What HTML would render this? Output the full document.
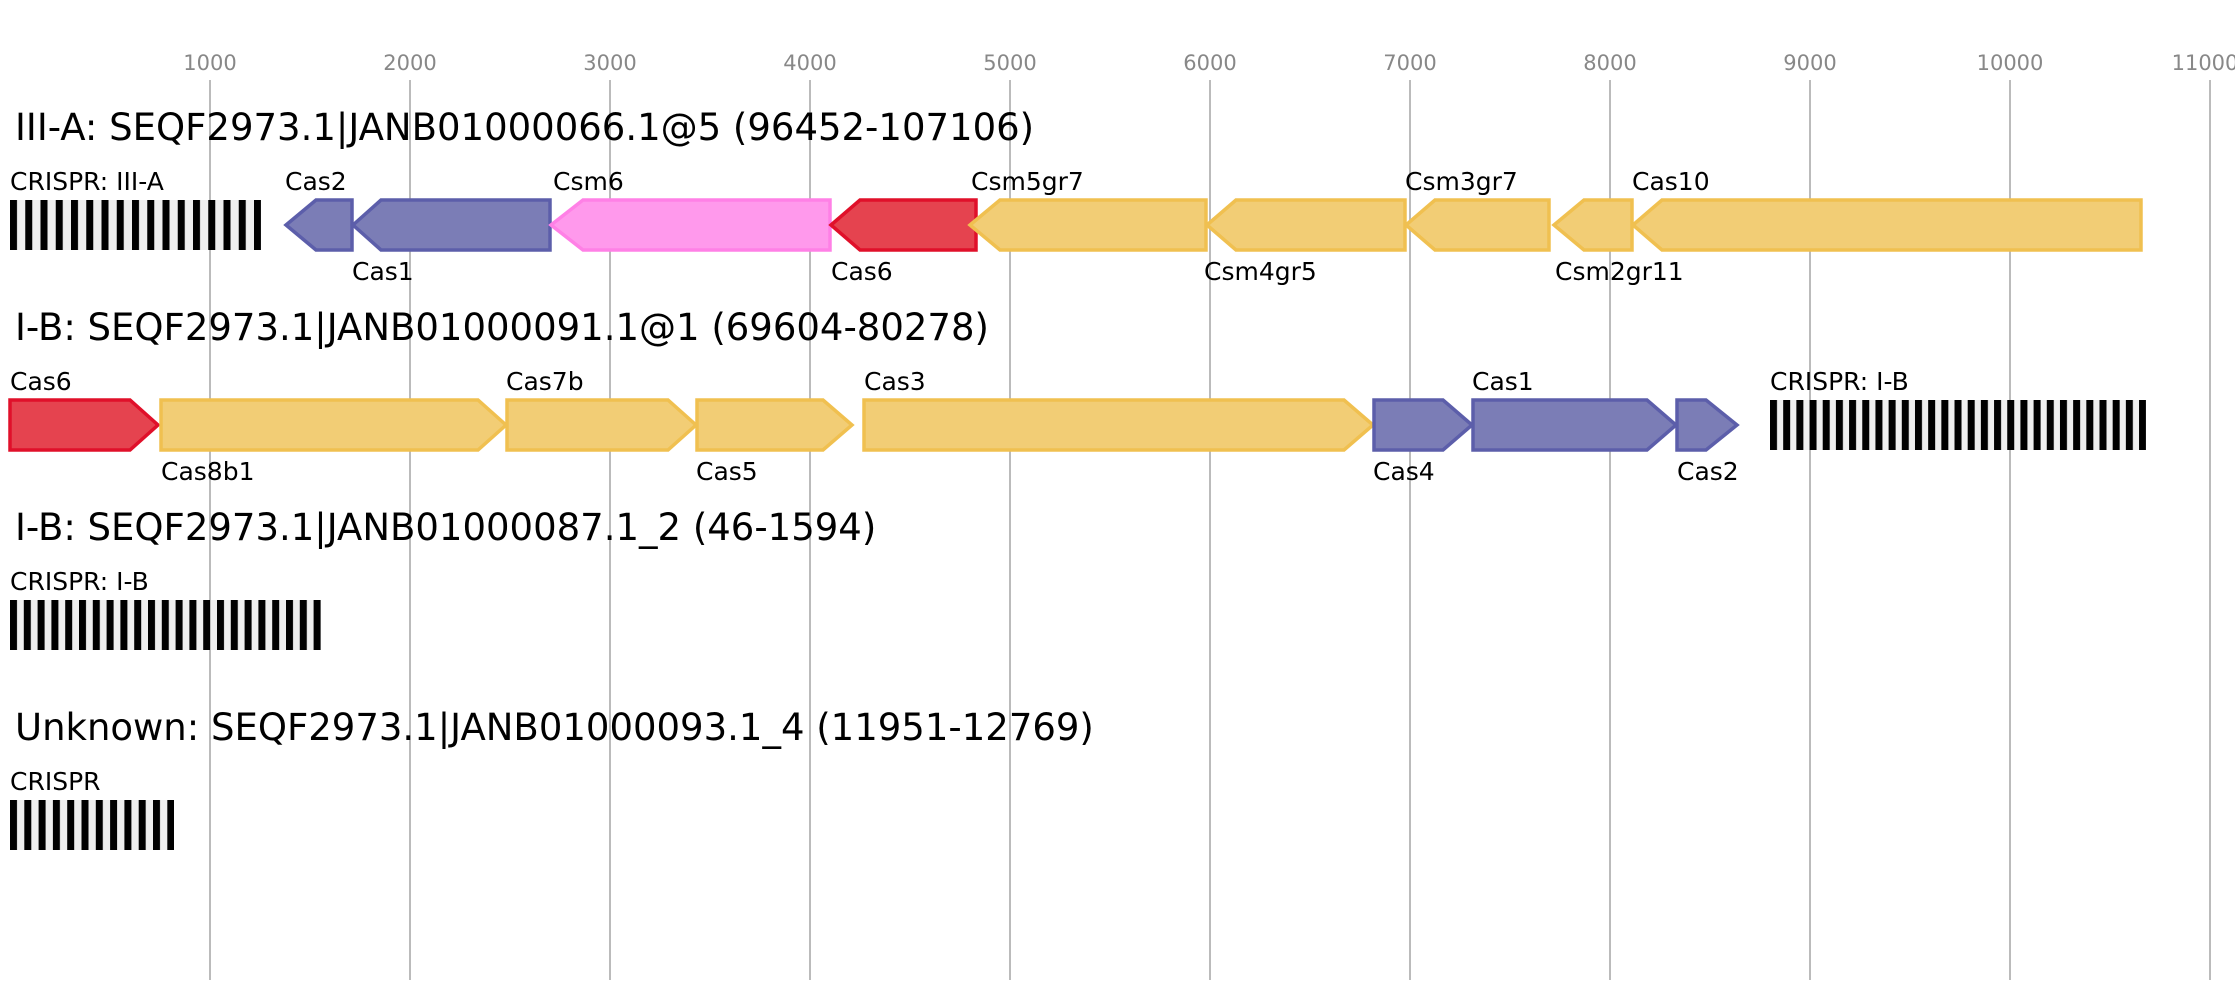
<!DOCTYPE html>
<html><head><meta charset="utf-8"><style>
html,body{margin:0;padding:0;background:#fff;}
svg{display:block;font-family:"DejaVu Sans","Liberation Sans",sans-serif;}
.ax{fill:#888;font-size:21px;text-anchor:middle;}
.t{font-size:37px;fill:#000;}
.l{font-size:25px;fill:#000;}
.b{fill:#7b7db6;stroke:#5c5eaa;stroke-width:3.5;}
.p{fill:#ff99ec;stroke:#ff80e6;stroke-width:3.5;}
.r{fill:#e5434f;stroke:#e0102a;stroke-width:3.5;}
.y{fill:#f2cd75;stroke:#f0c050;stroke-width:3.5;}
</style></head><body>
<svg width="2235" height="1000" viewBox="0 0 2235 1000" xmlns="http://www.w3.org/2000/svg">
<defs>
<pattern id="c1" x="10" y="0" width="15.25" height="10" patternUnits="userSpaceOnUse"><rect x="0" y="0" width="7" height="10" fill="#000"/></pattern>
<pattern id="c2" x="1770" y="0" width="13.18" height="10" patternUnits="userSpaceOnUse"><rect x="0" y="0" width="7" height="10" fill="#000"/></pattern>
<pattern id="c3" x="10" y="0" width="13.8" height="10" patternUnits="userSpaceOnUse"><rect x="0" y="0" width="7" height="10" fill="#000"/></pattern>
<pattern id="c4" x="10" y="0" width="14.3" height="10" patternUnits="userSpaceOnUse"><rect x="0" y="0" width="7" height="10" fill="#000"/></pattern>
</defs>
<g stroke="#bbb" stroke-width="2">
<line x1="210" y1="80" x2="210" y2="980"/><line x1="410" y1="80" x2="410" y2="980"/><line x1="610" y1="80" x2="610" y2="980"/><line x1="810" y1="80" x2="810" y2="980"/><line x1="1010" y1="80" x2="1010" y2="980"/><line x1="1210" y1="80" x2="1210" y2="980"/><line x1="1410" y1="80" x2="1410" y2="980"/><line x1="1610" y1="80" x2="1610" y2="980"/><line x1="1810" y1="80" x2="1810" y2="980"/><line x1="2010" y1="80" x2="2010" y2="980"/><line x1="2210" y1="80" x2="2210" y2="980"/>
</g>
<g class="ax">
<text x="210" y="70">1000</text><text x="410" y="70">2000</text><text x="610" y="70">3000</text><text x="810" y="70">4000</text><text x="1010" y="70">5000</text><text x="1210" y="70">6000</text><text x="1410" y="70">7000</text><text x="1610" y="70">8000</text><text x="1810" y="70">9000</text><text x="2010" y="70">10000</text><text x="2205" y="70">11000</text>
</g>

<text class="t" x="15" y="140">III-A: SEQF2973.1|JANB01000066.1@5 (96452-107106)</text>
<rect x="10" y="200" width="251" height="50" fill="#eee"/><rect x="10" y="200" width="251" height="50" fill="url(#c1)"/>
<text class="l" x="10" y="190">CRISPR: III-A</text>
<polygon class="b" points="286,225 316,200 352,200 352,250 316,250"/>
<polygon class="b" points="353,225 381,200 550,200 550,250 381,250"/>
<polygon class="p" points="551,225 583,200 830,200 830,250 583,250"/>
<polygon class="r" points="831,225 860,200 976,200 976,250 860,250"/>
<polygon class="y" points="970,225 1000,200 1206,200 1206,250 1000,250"/>
<polygon class="y" points="1207,225 1236,200 1405,200 1405,250 1236,250"/>
<polygon class="y" points="1406,225 1435,200 1549,200 1549,250 1435,250"/>
<polygon class="y" points="1554,225 1584,200 1632,200 1632,250 1584,250"/>
<polygon class="y" points="1633,225 1662,200 2141,200 2141,250 1662,250"/>
<text class="l" x="285" y="190">Cas2</text>
<text class="l" x="553" y="190">Csm6</text>
<text class="l" x="971" y="190">Csm5gr7</text>
<text class="l" x="1405" y="190">Csm3gr7</text>
<text class="l" x="1632" y="190">Cas10</text>
<text class="l" x="352" y="280">Cas1</text>
<text class="l" x="831" y="280">Cas6</text>
<text class="l" x="1204" y="280">Csm4gr5</text>
<text class="l" x="1555" y="280">Csm2gr11</text>

<text class="t" x="15" y="340">I-B: SEQF2973.1|JANB01000091.1@1 (69604-80278)</text>
<polygon class="r" points="10,400 130,400 158,425 130,450 10,450"/>
<polygon class="y" points="161,400 478,400 506,425 478,450 161,450"/>
<polygon class="y" points="507,400 668,400 696,425 668,450 507,450"/>
<polygon class="y" points="697,400 823,400 852,425 823,450 697,450"/>
<polygon class="y" points="864,400 1344,400 1373,425 1344,450 864,450"/>
<polygon class="b" points="1374,400 1443,400 1472,425 1443,450 1374,450"/>
<polygon class="b" points="1473,400 1647,400 1676,425 1647,450 1473,450"/>
<polygon class="b" points="1677,400 1706,400 1737,425 1706,450 1677,450"/>
<rect x="1770" y="400" width="376" height="50" fill="#eee"/><rect x="1770" y="400" width="376" height="50" fill="url(#c2)"/>
<text class="l" x="10" y="390">Cas6</text>
<text class="l" x="506" y="390">Cas7b</text>
<text class="l" x="864" y="390">Cas3</text>
<text class="l" x="1472" y="390">Cas1</text>
<text class="l" x="1770" y="390">CRISPR: I-B</text>
<text class="l" x="161" y="480">Cas8b1</text>
<text class="l" x="696" y="480">Cas5</text>
<text class="l" x="1373" y="480">Cas4</text>
<text class="l" x="1677" y="480">Cas2</text>

<text class="t" x="15" y="540">I-B: SEQF2973.1|JANB01000087.1_2 (46-1594)</text>
<text class="l" x="10" y="590">CRISPR: I-B</text>
<rect x="10" y="600" width="311" height="50" fill="#eee"/><rect x="10" y="600" width="311" height="50" fill="url(#c3)"/>

<text class="t" x="15" y="740">Unknown: SEQF2973.1|JANB01000093.1_4 (11951-12769)</text>
<text class="l" x="10" y="790">CRISPR</text>
<rect x="10" y="800" width="164" height="50" fill="#eee"/><rect x="10" y="800" width="164" height="50" fill="url(#c4)"/>
</svg>
</body></html>
